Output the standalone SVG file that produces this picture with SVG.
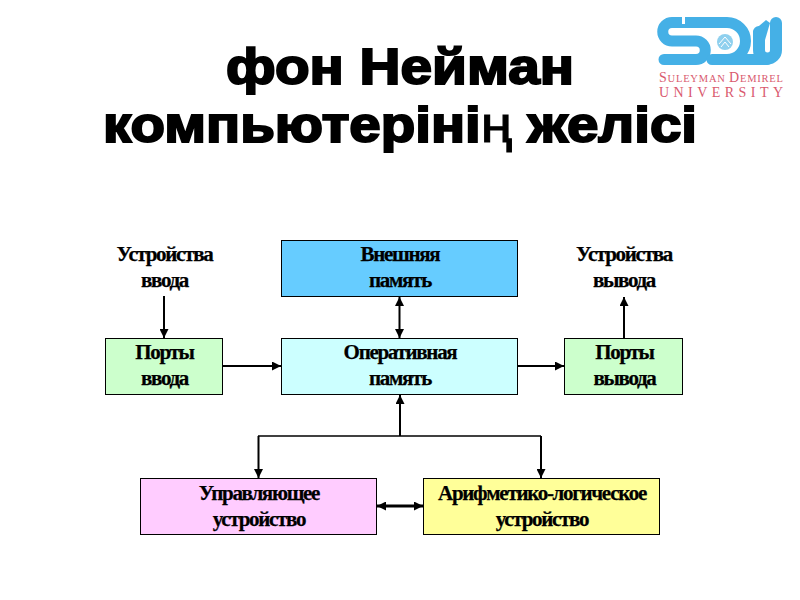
<svg xmlns="http://www.w3.org/2000/svg" width="800" height="600" viewBox="0 0 800 600">
<defs>
<marker id="ah" viewBox="0 0 10 10" refX="10" refY="5" markerWidth="10" markerHeight="9" markerUnits="userSpaceOnUse" orient="auto-start-reverse"><path d="M0 0L10 5L0 10Z" fill="#000"/></marker>
</defs>
<style>
.title{font-family:"Liberation Sans",Arial,sans-serif;font-weight:bold;font-size:50px;fill:#000;stroke:#000;stroke-width:2px;text-anchor:middle}
.thin{font-weight:normal;stroke-width:1px}
.lbl{font-family:"Liberation Serif","Times New Roman",serif;font-weight:bold;font-size:21px;fill:#000;stroke:#000;stroke-width:.25px;text-anchor:middle;letter-spacing:-1.3px}
.box{stroke:#000;stroke-width:1}
.c{fill:none;stroke:#000;stroke-width:2}
.bus{fill:none;stroke:#000;stroke-width:1.5}
.thick{fill:none;stroke:#000;stroke-width:3}
.lg{fill:none;stroke:#45b0e6;stroke-linecap:round;stroke-linejoin:round}
.uni{font-family:"Liberation Serif",serif;fill:#d9596e}
.sc{font-size:10.500px}
</style>
<rect width="800" height="600" fill="#fff"/>
<g id="title">
<text class="title" x="400" y="84" textLength="348" lengthAdjust="spacingAndGlyphs">фон Нейман</text>
<text class="title" x="400" y="142" textLength="594" lengthAdjust="spacingAndGlyphs">компьютеріні<tspan class="thin">ң</tspan> желісі</text>
</g>
<g id="logo">
<path class="lg" stroke-width="11" d="M702 22.500H672A9.250 9.250 0 0 0 672 41H696A9.250 9.250 0 0 1 696 59.500H664"/>
<path d="M682 16.500L685 16.500L685 24L682 24Z" fill="#fff"/>
<path class="lg" stroke-width="11" d="M702 22.500H727A18.500 18.500 0 0 1 727 59.500H712"/>
<path class="lg" stroke-width="11" d="M727 59.500H767"/>
<path class="lg" stroke-width="12" d="M759 32V50A8.500 8.500 0 0 0 776 50V23"/>
<path d="M753 31L766 20L770 23L765 40H753Z" fill="#45b0e6"/>
<circle cx="725" cy="42" r="8" fill="#8fd0ee"/>
<path d="M719 44L725 37L731 44M721 47L725 42L729 47" fill="none" stroke="#fff" stroke-width="1"/>
<text class="uni" x="659" y="82" font-size="14" textLength="124"><tspan>S</tspan><tspan class="sc">ULEYMAN </tspan><tspan>D</tspan><tspan class="sc">EMIREL</tspan></text>
<text class="uni" x="659" y="97" font-size="14" textLength="124">UNIVERSITY</text>
</g>
<g id="n-input-dev"><text class="lbl" x="164.500" y="261">Устройства</text><text class="lbl" x="164.500" y="287">ввода</text></g>
<g id="n-output-dev"><text class="lbl" x="624" y="261">Устройства</text><text class="lbl" x="624" y="287">вывода</text></g>
<g id="n-external"><rect class="box" x="281.500" y="240.500" width="236" height="56" fill="#66ccff"/><text class="lbl" x="400" y="261">Внешняя</text><text class="lbl" x="400" y="287">память</text></g>
<g id="n-ram"><rect class="box" x="281.500" y="338.500" width="236" height="56" fill="#ccffff"/><text class="lbl" x="400" y="359">Оперативная</text><text class="lbl" x="400" y="385">память</text></g>
<g id="n-in"><rect class="box" x="105.500" y="338.500" width="117" height="56" fill="#ccffcc"/><text class="lbl" x="164.500" y="359">Порты</text><text class="lbl" x="164.500" y="385">ввода</text></g>
<g id="n-out"><rect class="box" x="564.500" y="338.500" width="118" height="56" fill="#ccffcc"/><text class="lbl" x="624.500" y="359">Порты</text><text class="lbl" x="624.500" y="385">вывода</text></g>
<g id="n-cu"><rect class="box" x="140.500" y="478.500" width="236" height="56" fill="#ffccff"/><text class="lbl" x="259" y="500">Управляющее</text><text class="lbl" x="259" y="526">устройство</text></g>
<g id="n-alu"><rect class="box" x="423.500" y="478.500" width="236" height="56" fill="#ffff99"/><text class="lbl" x="542" y="500">Арифметико-логическое</text><text class="lbl" x="542" y="526">устройство</text></g>
<g id="connectors">
<path class="c" d="M164 296V338" marker-end="url(#ah)"/>
<path class="c" d="M624 338V297" marker-end="url(#ah)"/>
<path class="c" d="M399.500 297V338" marker-start="url(#ah)" marker-end="url(#ah)"/>
<path class="c" d="M223 366H281" marker-end="url(#ah)"/>
<path class="c" d="M518 366H564" marker-end="url(#ah)"/>
<path class="c" d="M400 436V395" marker-end="url(#ah)"/>
<path class="c" d="M258.500 436V478" marker-end="url(#ah)"/>
<path class="c" d="M541 436V478" marker-end="url(#ah)"/>
<path class="bus" d="M258 436H541"/>
<path class="thick" d="M377 506H423" marker-start="url(#ah)" marker-end="url(#ah)"/>
</g>
</svg>
